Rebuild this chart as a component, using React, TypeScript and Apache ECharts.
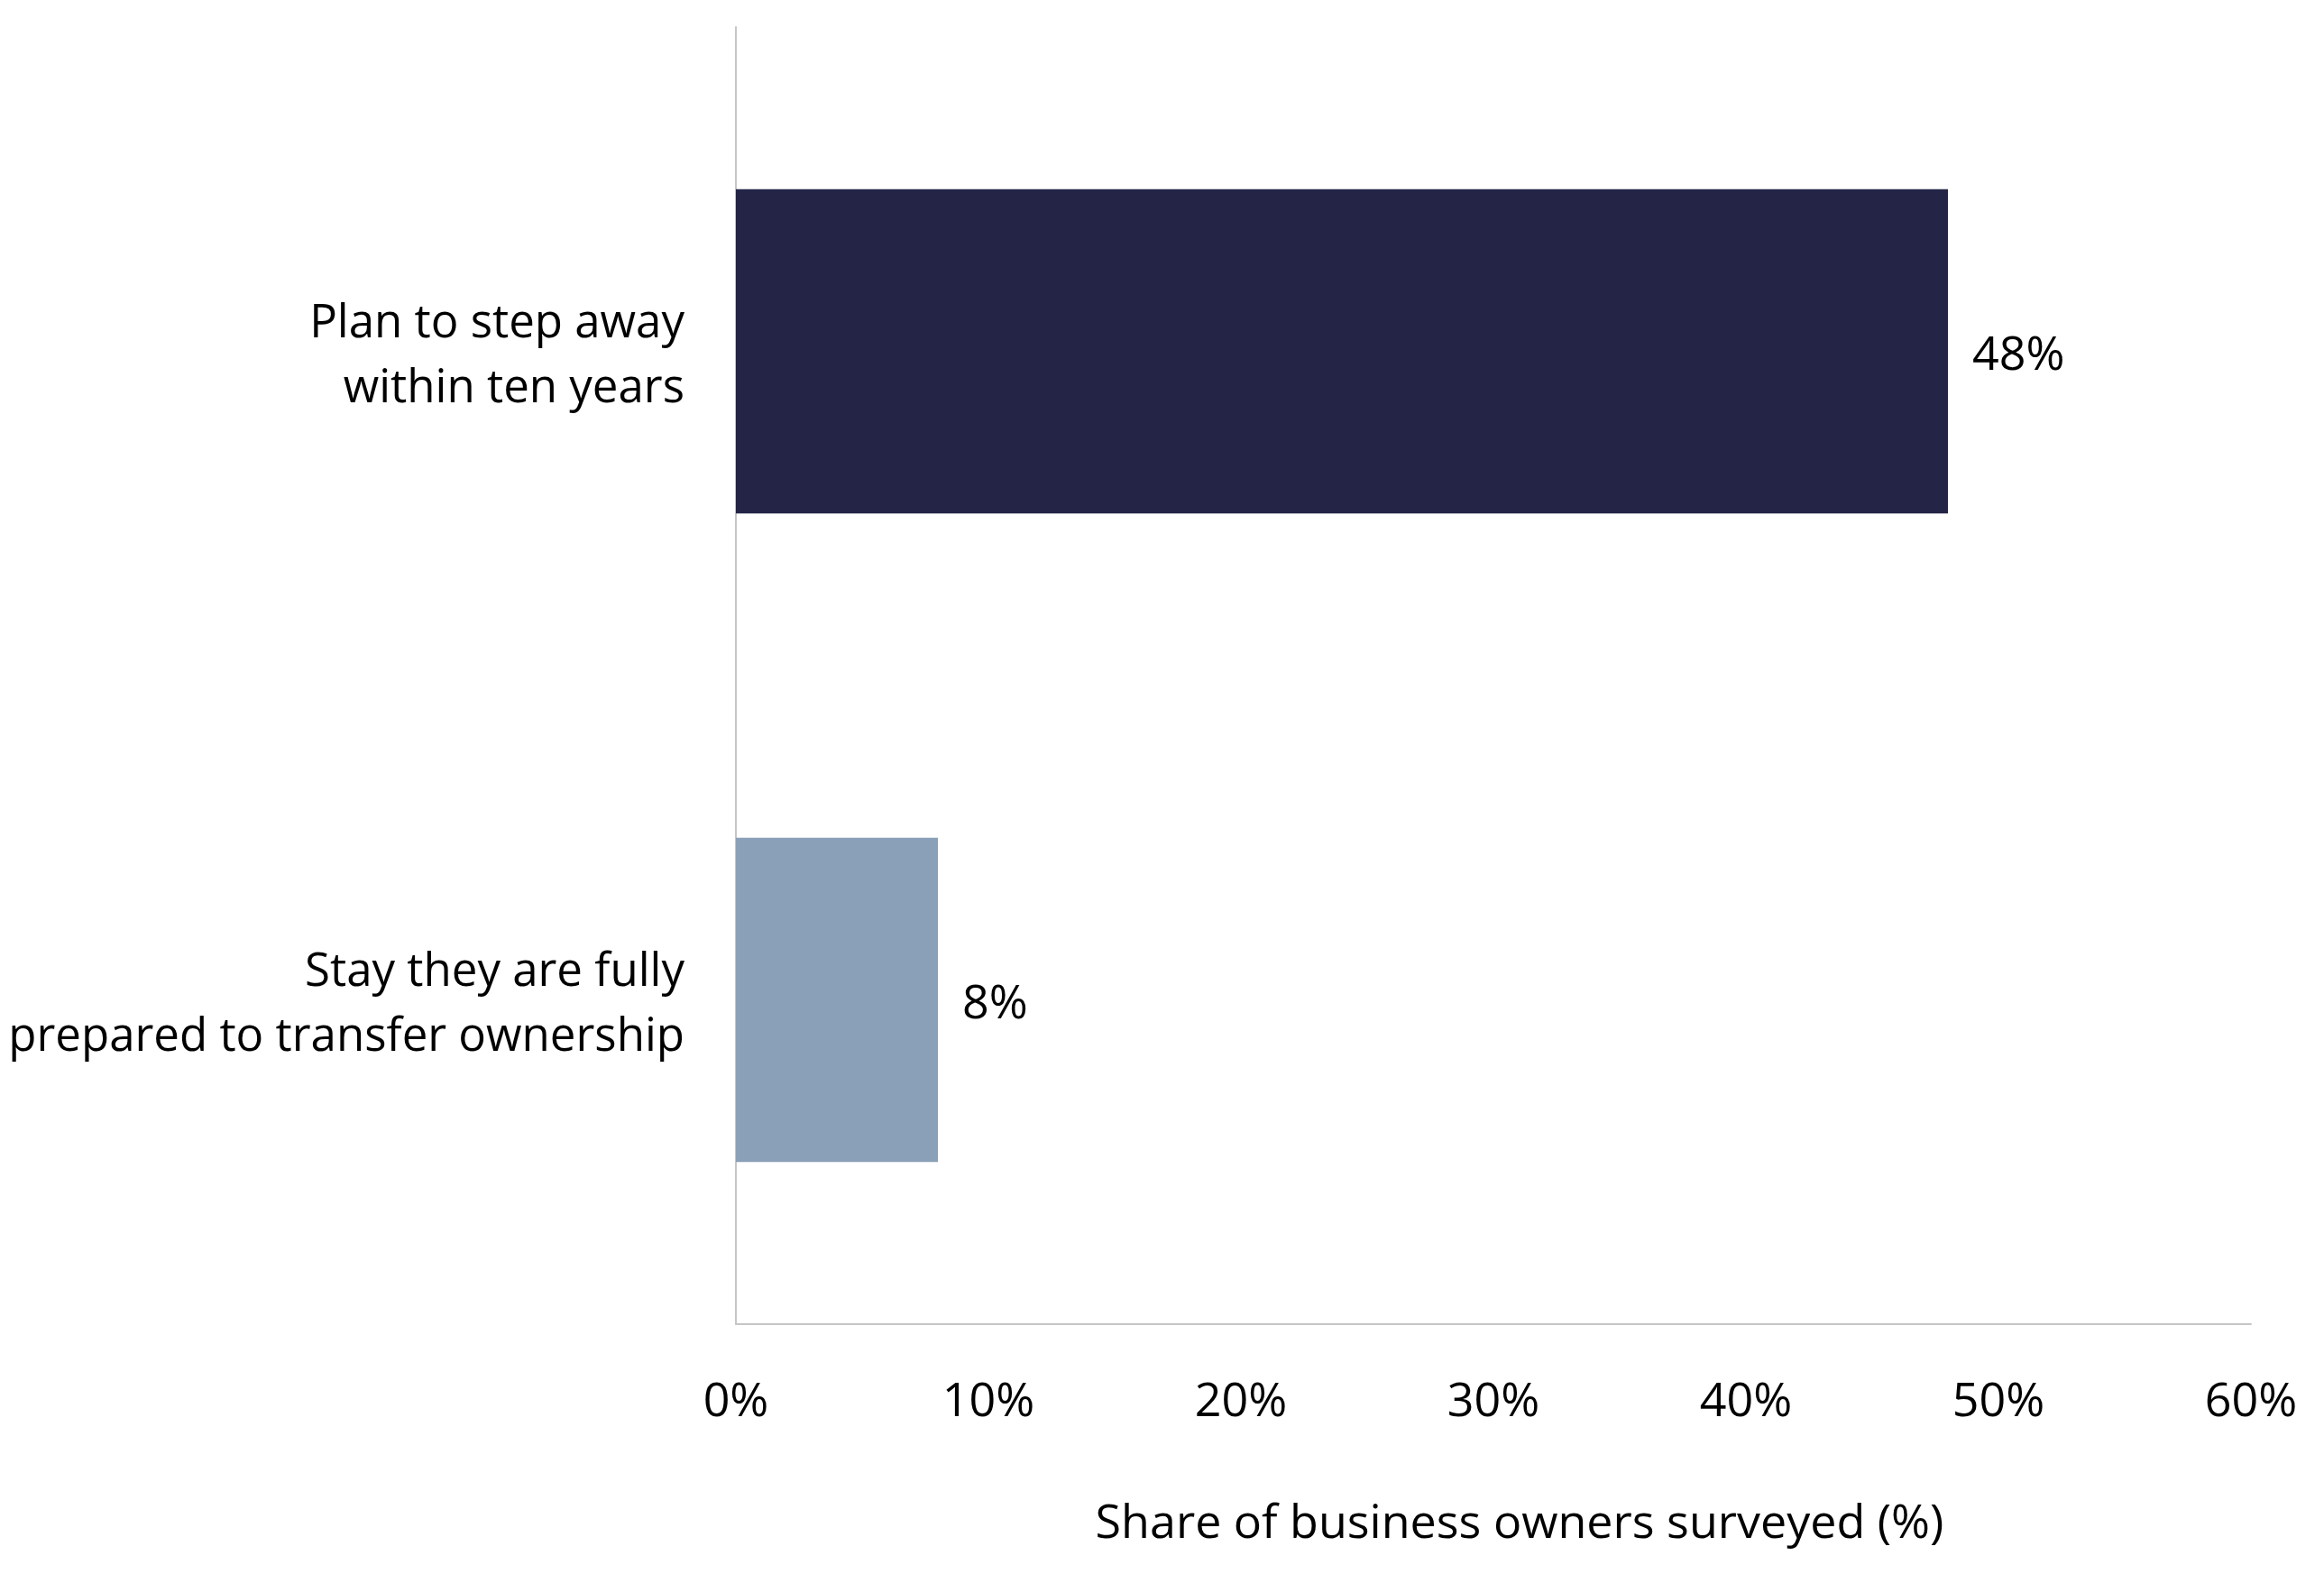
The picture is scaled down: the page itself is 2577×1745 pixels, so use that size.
import { useEffect, useRef } from "react";
import * as echarts from "echarts";

// Survey shares, top to bottom.
const CATEGORIES = [
  "Plan to step away\nwithin ten years",
  "Stay they are fully\nprepared to transfer ownership",
];
const VALUES = [48, 8];
const BAR_COLORS = ["#232446", "#8aa0b8"];
const X_TITLE = "Share of business owners surveyed (%)";

const FONT = "'Open Sans', 'Noto Sans', sans-serif";
const AXIS_GREY = "#c6c6c6";

export default function App() {
  const elRef = useRef<HTMLDivElement | null>(null);

  useEffect(() => {
    document.body.style.margin = "0";
    if (!elRef.current) return;
    const chart = echarts.init(elRef.current, undefined, { renderer: "svg" });

    chart.setOption({
      animation: false,
      backgroundColor: "#ffffff",
      textStyle: { fontFamily: FONT, color: "#000" },
      grid: {
        left: 816,
        right: 81,
        top: 30,
        bottom: 277,
        containLabel: false,
        outerBoundsMode: "none",
      },
      xAxis: {
        type: "value",
        min: 0,
        max: 60,
        interval: 10,
        axisLine: { show: true, lineStyle: { color: AXIS_GREY, width: 2 } },
        axisTick: { show: false },
        splitLine: { show: false },
        axisLabel: {
          formatter: "{value}%",
          fontSize: 52,
          fontFamily: FONT,
          color: "#000",
          margin: 55,
        },
        name: X_TITLE,
        nameLocation: "middle",
        nameGap: 190,
        nameTextStyle: {
          fontSize: 52,
          fontFamily: FONT,
          color: "#000",
          padding: [0, 0, 0, 58],
        },
      },
      yAxis: {
        type: "category",
        inverse: true,
        data: CATEGORIES,
        axisLine: { show: true, lineStyle: { color: AXIS_GREY, width: 2 } },
        axisTick: { show: false },
        axisLabel: {
          fontSize: 51,
          lineHeight: 72,
          fontFamily: FONT,
          color: "#000",
          margin: 57,
          align: "right",
        },
      },
      series: [
        {
          type: "bar",
          barCategoryGap: "50%",
          data: VALUES.map((v, i) => ({ value: v, itemStyle: { color: BAR_COLORS[i] } })),
          label: {
            show: true,
            position: "right",
            distance: 27,
            formatter: "{c}%",
            fontSize: 52,
            fontFamily: FONT,
            color: "#000",
          },
        },
      ],
    });

    return () => chart.dispose();
  }, []);

  return <div ref={elRef} style={{ width: 2577, height: 1745 }} />;
}
